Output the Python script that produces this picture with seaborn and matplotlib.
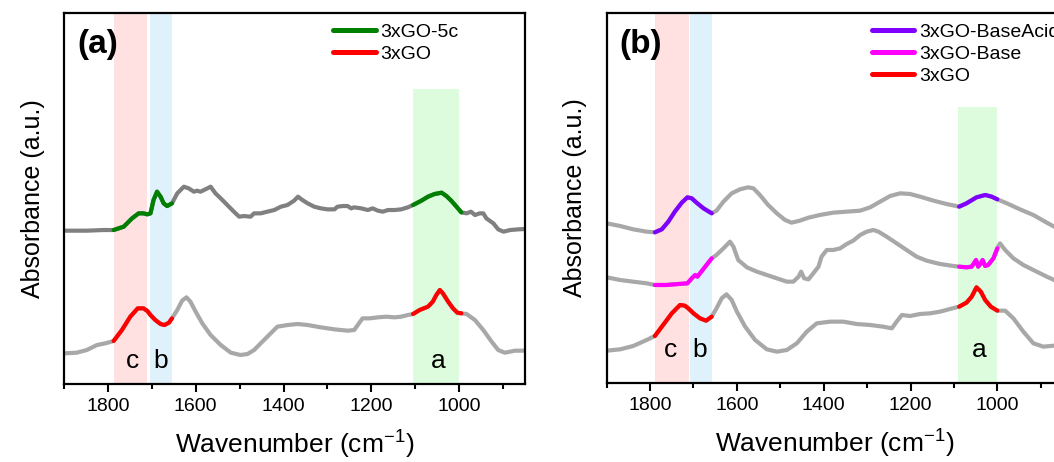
import pandas as pd
import matplotlib
matplotlib.use('Agg')
import matplotlib.pyplot as plt
import seaborn as sns
from matplotlib.lines import Line2D
from matplotlib.ticker import MultipleLocator

# --- COLOURS ---
GREEN = '#008000'
RED = '#ff0000'
PURPLE = '#7f00ff'
MAGENTA = '#ff00ff'
GRAY_DARK = '#808080'
GRAY_LIGHT = '#a8a8a8'
BAND_PINK = '#ffe1e1'
BAND_BLUE = '#dff1fb'
BAND_GREEN = '#ddfcdd'

# --- PANEL (a) DATA ---
WN_A_5C = [1898, 1848, 1810, 1787, 1764, 1745, 1730, 1719, 1710, 1703, 1696, 1688, 1680, 1673, 1665,
           1654, 1642, 1627, 1616, 1604, 1597, 1589, 1578, 1566, 1555, 1543, 1528, 1513, 1501, 1490,
           1475, 1467, 1452, 1437, 1421, 1406, 1391, 1376, 1367, 1357, 1345, 1330, 1315, 1300, 1284,
           1277, 1265, 1254, 1246, 1239, 1223, 1208, 1197, 1185, 1174, 1162, 1147, 1132, 1117, 1105,
           1086, 1071, 1056, 1040, 1029, 1018, 1006, 995, 983, 973, 964, 953, 945, 938, 922,
           911, 899, 884, 865, 850]
ABS_A_5C = [.460, .460, .462, .462, .472, .497, .512, .512, .509, .512, .552, .577, .562, .542, .534,
            .542, .572, .592, .587, .577, .580, .577, .584, .592, .572, .557, .537, .517, .502, .504,
            .502, .512, .512, .517, .522, .532, .537, .550, .562, .552, .542, .532, .527, .524, .524,
            .532, .534, .534, .527, .530, .527, .522, .527, .520, .517, .522, .522, .524, .530, .537,
            .550, .562, .570, .574, .564, .550, .532, .515, .512, .517, .507, .512, .512, .497, .482,
            .464, .457, .462, .464, .465]

WN_A_GO = [1898, 1871, 1848, 1825, 1806, 1787, 1768, 1749, 1732, 1719, 1710, 1703, 1692, 1680, 1671,
           1661, 1654, 1642, 1631, 1621, 1612, 1600, 1585, 1566, 1543, 1520, 1498, 1482, 1467, 1452,
           1433, 1414, 1391, 1368, 1345, 1315, 1284, 1254, 1239, 1231, 1220, 1204, 1185, 1166, 1147,
           1132, 1117, 1105, 1090, 1071, 1060, 1052, 1044, 1037, 1025, 1014, 1004, 995, 983, 964,
           945, 926, 911, 896, 873, 850]
ABS_A_GO = [.092, .094, .102, .117, .122, .129, .162, .202, .227, .227, .219, .207, .192, .180, .177,
            .184, .197, .222, .250, .260, .247, .217, .182, .147, .117, .094, .087, .090, .102, .122,
            .147, .172, .177, .180, .177, .170, .164, .160, .162, .177, .197, .197, .200, .202, .200,
            .202, .207, .210, .222, .232, .247, .267, .282, .272, .247, .227, .214, .212, .210, .192,
            .162, .127, .102, .094, .100, .100]

# --- PANEL (b) DATA ---
WN_B_ACID = [1900, 1869, 1839, 1808, 1789, 1773, 1758, 1743, 1727, 1714, 1704, 1693, 1677, 1658, 1647,
             1631, 1612, 1593, 1574, 1562, 1547, 1528, 1508, 1489, 1474, 1455, 1435, 1409, 1378, 1347,
             1316, 1293, 1270, 1247, 1224, 1201, 1178, 1147, 1117, 1088, 1071, 1048, 1028, 1013, 1000,
             978, 948, 917, 886, 869, 860]
ABS_B_ACID = [.479, .471, .461, .454, .452, .461, .484, .514, .541, .557, .554, .541, .524, .509, .517,
              .544, .569, .581, .587, .584, .564, .534, .509, .489, .481, .487, .496, .504, .511, .514,
              .517, .527, .544, .561, .569, .567, .559, .547, .537, .529, .539, .557, .564, .559, .551,
              .539, .521, .504, .481, .469, .462]

WN_B_BASE = [1900, 1869, 1839, 1808, 1789, 1762, 1735, 1714, 1704, 1696, 1691, 1685, 1673, 1658, 1647,
             1631, 1616, 1608, 1597, 1577, 1554, 1531, 1508, 1485, 1470, 1458, 1452, 1445, 1435, 1424,
             1412, 1405, 1393, 1378, 1362, 1347, 1332, 1316, 1301, 1286, 1274, 1255, 1232, 1209, 1186,
             1163, 1132, 1101, 1088, 1071, 1059, 1054, 1049, 1044, 1038, 1034, 1028, 1021, 1009, 1000,
             994, 982, 963, 940, 917, 886, 869, 860]
ABS_B_BASE = [.317, .309, .304, .299, .294, .294, .297, .299, .314, .324, .319, .329, .349, .374, .384,
              .404, .424, .409, .369, .347, .334, .324, .314, .304, .304, .319, .334, .314, .311, .329,
              .349, .379, .399, .399, .404, .417, .427, .444, .454, .459, .454, .439, .419, .399, .379,
              .367, .357, .351, .349, .347, .349, .359, .369, .349, .359, .369, .351, .354, .374, .404,
              .419, .399, .374, .354, .339, .319, .309, .305]

WN_B_GO = [1900, 1869, 1839, 1808, 1789, 1770, 1750, 1731, 1720, 1712, 1700, 1685, 1671, 1658, 1647,
           1635, 1624, 1612, 1600, 1581, 1558, 1531, 1508, 1485, 1462, 1439, 1416, 1385, 1355, 1324,
           1293, 1263, 1243, 1232, 1220, 1201, 1178, 1155, 1132, 1109, 1088, 1071, 1059, 1048, 1038,
           1028, 1015, 1000, 982, 963, 940, 917, 894, 869, 860]
ABS_B_GO = [.097, .101, .111, .129, .141, .174, .209, .234, .232, .224, .209, .194, .187, .199, .224,
            .254, .266, .249, .214, .169, .129, .101, .094, .099, .119, .154, .179, .184, .184, .177,
            .174, .169, .164, .184, .204, .201, .207, .209, .214, .222, .229, .241, .259, .287, .274,
            .249, .229, .217, .217, .194, .154, .119, .109, .112, .113]

# highlighted ranges (cm-1) for coloured segments, and shaded bands
HIGHLIGHT_A = [(1654, 1787), (995, 1105)]
HIGHLIGHT_B = [(1658, 1789), (1000, 1088)]
BANDS_A = {'c': (1710, 1785), 'b': (1655, 1705), 'a': (1000, 1105)}
BANDS_B = {'c': (1710, 1789), 'b': (1658, 1708), 'a': (1000, 1090)}
BAND_LABELS_A = {'c': 1745, 'b': 1680, 'a': 1048}
BAND_LABELS_B = {'c': 1752, 'b': 1685, 'a': 1042}


def draw_panel(ax, curves, highlight, bands, green_top, ytop, label_x, label_y, panel_tag, legend_x):
    ax.axvspan(*bands['c'], color=BAND_PINK, lw=0, zorder=0)
    ax.axvspan(*bands['b'], color=BAND_BLUE, lw=0, zorder=0)
    ax.axvspan(*bands['a'], ymax=green_top / ytop, color=BAND_GREEN, lw=0, zorder=0)

    handles, labels = [], []
    for wn, ab, gray, color, name in curves:
        df = pd.DataFrame({'wn': wn, 'abs': ab})
        sns.lineplot(data=df, x='wn', y='abs', ax=ax, color=gray, lw=3,
                     estimator=None, sort=False, solid_capstyle='round', solid_joinstyle='round')
        for lo, hi in highlight:
            seg = df[(df['wn'] >= lo) & (df['wn'] <= hi)]
            sns.lineplot(data=seg, x='wn', y='abs', ax=ax, color=color, lw=3,
                         estimator=None, sort=False, solid_capstyle='round', solid_joinstyle='round')
        handles.append(Line2D([], [], color=color, lw=3.6, solid_capstyle='round'))
        labels.append(name)

    for key, x in label_x.items():
        ax.text(x, label_y, key, fontsize=19, ha='center', va='baseline', color='black')

    ax.text(0.028, 0.957, panel_tag, transform=ax.transAxes, fontsize=24,
            fontweight='bold', ha='left', va='top', color='black')

    ax.legend(handles, labels, loc='upper left', bbox_to_anchor=(legend_x, 0.972),
              frameon=False, fontsize=14, handlelength=2.2, handletextpad=0.25,
              labelspacing=0.22, borderpad=0, borderaxespad=0)

    ax.set_xlim(1900, 850)
    ax.set_ylim(0, ytop)
    ax.set_yticks([])
    ax.xaxis.set_major_locator(MultipleLocator(200))
    ax.xaxis.set_minor_locator(MultipleLocator(100))
    ax.tick_params(axis='x', which='major', direction='out', length=6, width=1.5,
                   labelsize=14, pad=4, top=False, colors='black')
    ax.tick_params(axis='x', which='minor', direction='out', length=3.5, width=1.5, top=False,
                   colors='black')
    ax.set_xlabel('Wavenumber (cm$^{-1}$)', fontsize=19, labelpad=10, color='black')
    ax.set_ylabel('Absorbance (a.u.)', fontsize=18, labelpad=14, color='black')
    for sp in ax.spines.values():
        sp.set_linewidth(1.6)
        sp.set_color('black')
        sp.set_visible(True)


def main():
    sns.set_style('ticks')
    plt.rcParams['font.family'] = ['Liberation Sans', 'DejaVu Sans']
    plt.rcParams['mathtext.default'] = 'regular'
    plt.rcParams['text.color'] = 'black'
    plt.rcParams['legend.labelcolor'] = 'black'

    fig = plt.figure(figsize=(10.54, 4.62), dpi=100)
    ax_a = fig.add_axes([0.0607, 0.1688, 0.4374, 0.803])
    ax_b = fig.add_axes([0.5756, 0.171, 0.4324, 0.8009])

    curves_a = [
        (WN_A_5C, ABS_A_5C, GRAY_DARK, GREEN, '3xGO-5c'),
        (WN_A_GO, ABS_A_GO, GRAY_LIGHT, RED, '3xGO'),
    ]
    curves_b = [
        (WN_B_ACID, ABS_B_ACID, GRAY_LIGHT, PURPLE, '3xGO-BaseAcid'),
        (WN_B_BASE, ABS_B_BASE, GRAY_LIGHT, MAGENTA, '3xGO-Base'),
        (WN_B_GO, ABS_B_GO, GRAY_LIGHT, RED, '3xGO'),
    ]

    draw_panel(ax_a, curves_a, HIGHLIGHT_A, BANDS_A, 0.885, 1.113, BAND_LABELS_A, 0.047, '(a)', 0.583)
    draw_panel(ax_b, curves_b, HIGHLIGHT_B, BANDS_B, 0.828, 1.110, BAND_LABELS_B, 0.079, '(b)', 0.5815)

    fig.savefig('out.png', dpi=100)
    plt.close(fig)


if __name__ == "__main__":
    main()
